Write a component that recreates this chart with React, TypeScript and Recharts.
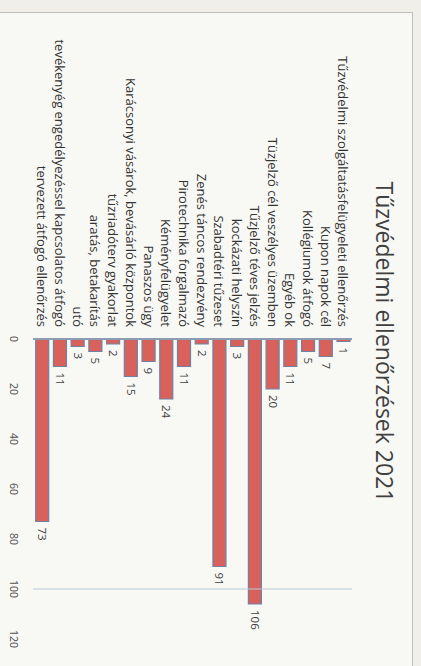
import React from "react";
import { BarChart, Bar, XAxis, YAxis, LabelList, ReferenceLine } from "recharts";

const categories = [
  "Tűzvédelmi szolgáltatásfelügyeleti ellenőrzés",
  "Kupon napok cél",
  "Kollégiumok átfogó",
  "Egyéb ok",
  "Tüzjelző cél veszélyes üzemben",
  "Tűzjelző téves jelzés",
  "kockázati helyszín",
  "Szabadtéri tűzeset",
  "Zenés táncos rendezvény",
  "Pirotechnika forgalmazó",
  "Kéményfelügyelet",
  "Panaszos ügy",
  "Karácsonyi vásárok, bevásárló központok",
  "tűzriadóterv gyakorlat",
  "aratás, betakarítás",
  "utó",
  "tevékenyég engedélyezéssel kapcsolatos átfogó",
  "tervezett átfogó ellenőrzés",
];

const values = [1, 7, 5, 11, 20, 106, 3, 91, 2, 11, 24, 9, 15, 2, 5, 3, 11, 73];

const valueTicks = [0, 20, 40, 60, 80, 100, 120];

const title = "Tűzvédelmi ellenőrzések 2021";

const data = categories.map((name, i) => ({ name, value: values[i] }));

const FONT = "'Open Sans', 'Noto Sans', sans-serif";

const CategoryTick = (props: any) => {
  const { x, y, payload } = props;
  return (
    <text
      x={x}
      y={y}
      dy="0.36em"
      textAnchor="end"
      fontSize={13}
      fill="#333333"
      fontFamily={FONT}
    >
      {payload.value}
    </text>
  );
};

export default function App() {
  return (
    <div
      style={{
        position: "absolute",
        left: 0,
        top: 0,
        width: 421,
        height: 666,
        overflow: "hidden",
        background: "#f0efe9",
      }}
    >
      <div
        style={{
          position: "absolute",
          left: 0,
          top: 0,
          width: 666,
          height: 421,
          transformOrigin: "0 0",
          transform: "translateX(421px) rotate(90deg)",
          fontFamily: FONT,
        }}
      >
        <div
          style={{
            position: "absolute",
            left: 12,
            top: 8,
            width: 720,
            height: 460,
            border: "1px solid #bdbdbd",
            background: "#f8f8f4",
          }}
        />
        <div
          style={{
            position: "absolute",
            left: 342 - 250,
            width: 500,
            top: 21,
            textAlign: "center",
            fontSize: 23,
            lineHeight: "30px",
            color: "#404040",
            fontFamily: FONT,
          }}
        >
          {title}
        </div>
        <div style={{ position: "absolute", left: 0, top: 0 }}>
          <BarChart
            width={666}
            height={421}
            data={data}
            layout="vertical"
            margin={{ top: 69, right: 27, bottom: 3, left: 39 }}
            barSize={13}
          >
            <XAxis
              type="number"
              domain={[0, 120]}
              ticks={valueTicks}
              axisLine={false}
              tickLine={false}
              tickMargin={10}
              height={30}
              tick={{ fontSize: 10.5, fill: "#505050", fontFamily: FONT }}
            />
            <YAxis
              type="category"
              dataKey="name"
              width={300}
              interval={0}
              tickLine={false}
              tickMargin={6}
              axisLine={{ stroke: "#8c9db2", strokeWidth: 2 }}
              tick={<CategoryTick />}
            />
            <ReferenceLine x={100} stroke="#b9cad3" strokeWidth={1} />
            <Bar
              dataKey="value"
              fill="#d8615c"
              stroke="#6f82a3"
              strokeWidth={1.2}
              isAnimationActive={false}
            >
              <LabelList
                dataKey="value"
                position="right"
                offset={6}
                style={{ fontSize: 11.5, fill: "#404040", fontFamily: FONT }}
              />
            </Bar>
          </BarChart>
        </div>
      </div>
    </div>
  );
}
